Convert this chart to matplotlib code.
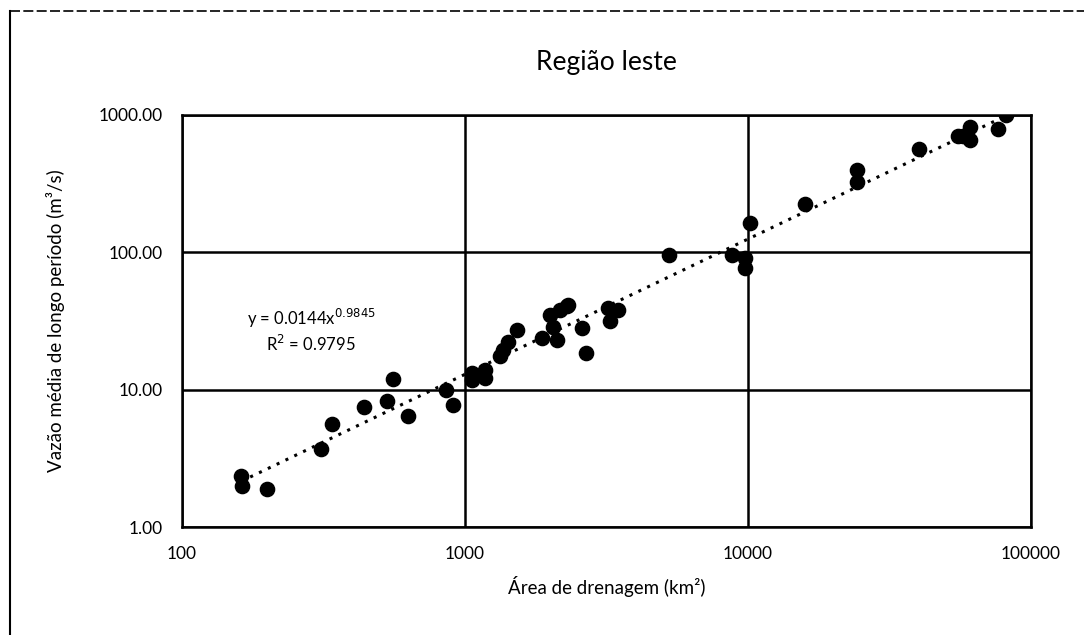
import numpy as np
import matplotlib.pyplot as plt
from matplotlib.lines import Line2D

plt.rcParams['font.family'] = ['Lato', 'DejaVu Sans']

# área de drenagem (km²) e vazão média (m³/s)
area = [162, 163, 199, 309, 338, 440, 528, 555, 631, 857, 905,
        1057, 1060, 1178, 1180, 1331, 1365, 1422, 1523, 1867, 1996,
        2050, 2108, 2167, 2290, 2318, 2581, 2677, 3209, 3251, 3480,
        5275, 8747, 9750, 9760, 10160, 15890, 24200, 24300, 40300,
        55300, 57500, 60900, 61000, 76500, 82000]
vazao = [2.37, 1.98, 1.90, 3.71, 5.64, 7.48, 8.32, 12.0, 6.40, 10.0, 7.78,
         13.2, 11.8, 14.0, 12.2, 17.5, 19.5, 22.4, 27.3, 23.8, 35.1,
         28.8, 23.1, 38.2, 40.5, 41.5, 28.1, 18.5, 39.3, 31.4, 38.2,
         96, 96, 90.9, 76.7, 163, 225, 398, 327, 563,
         703, 700, 822, 658, 788, 1000]

# linha de tendência (potência) e seu texto
coef_a = 0.0144
coef_b = 0.9845
eq_text = 'y = 0.0144x$^{0.9845}$\nR$^2$ = 0.9795'

fig = plt.figure(figsize=(10.84, 6.35), dpi=100)
ax = fig.add_axes([0.168, 0.170, 0.783, 0.649])

ax.scatter(area, vazao, s=105, color='black', zorder=3)

xt = np.logspace(np.log10(min(area)), np.log10(max(area)), 100)
ax.plot(xt, coef_a * xt ** coef_b, color='black', linestyle=(0, (1, 2.2)), lw=2.2, zorder=2)

ax.set_xscale('log')
ax.set_yscale('log')
ax.set_xlim(100, 100000)
ax.set_ylim(1, 1000)
ax.set_xticks([100, 1000, 10000, 100000])
ax.set_xticklabels(['100', '1000', '10000', '100000'])
ax.set_yticks([1, 10, 100, 1000])
ax.set_yticklabels(['1.00', '10.00', '100.00', '1000.00'])
ax.minorticks_off()
ax.tick_params(length=0, labelsize=12.5, pad=14)
ax.grid(True, which='major', color='black', lw=1.8)
for s in ax.spines.values():
    s.set_color('black')
    s.set_linewidth(1.8)

ax.set_xlabel('Área de drenagem (km²)', fontsize=13.5, labelpad=10)
ax.set_ylabel('Vazão média de longo período (m³/s)', fontsize=13.5, labelpad=24)
ax.set_title('Região leste', fontsize=19, pad=32)

ax.text(0.152, 0.477, eq_text, transform=ax.transAxes, ha='center', va='center',
        fontsize=12, linespacing=1.2)

# moldura digitalizada
fig.add_artist(Line2D([0.009, 0.009], [0.0, 0.982], color='black', lw=1.5))
fig.add_artist(Line2D([0.009, 1.0], [0.982, 0.982], color='black', lw=1.2, linestyle=(0, (6, 2))))

fig.savefig('out.png', dpi=100)
